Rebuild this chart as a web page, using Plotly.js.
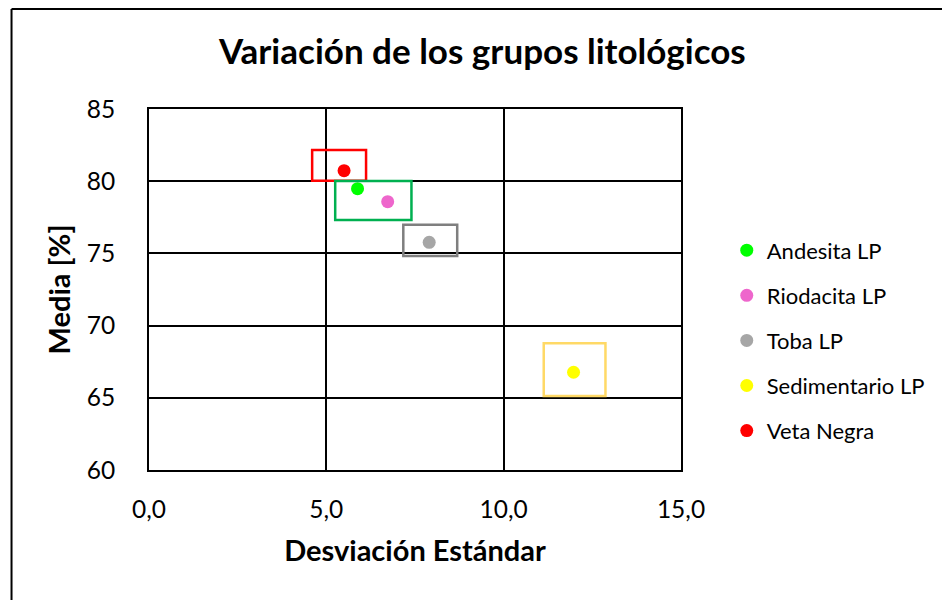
<!DOCTYPE html>
<html>
<head>
<meta charset="utf-8">
<script src="https://cdn.plot.ly/plotly-3.0.1.min.js"></script>
<style>html,body{margin:0;padding:0;background:#fff}#chart{width:942px;height:600px}</style>
</head>
<body>
<div id="chart"></div>
<script>
// Data
const groups = ["Andesita LP", "Riodacita LP", "Toba LP", "Sedimentario LP", "Veta Negra"];
const desviacion = [5.88, 6.73, 7.90, 11.97, 5.50];
const media = [79.48, 78.58, 75.77, 66.77, 80.73];
const pointColors = ["#00FF00", "#EE66CC", "#A6A6A6", "#FFFF00", "#FF0000"];
// Range boxes (Desviación min/max, Media min/max)
const boxGroups = ["Veta Negra", "Andesita/Riodacita LP", "Toba LP", "Sedimentario LP"];
const boxXmin = [4.60, 5.25, 7.17, 11.13];
const boxXmax = [6.12, 7.40, 8.69, 12.87];
const boxYmin = [80.03, 77.31, 74.82, 65.12];
const boxYmax = [82.16, 80.01, 76.99, 68.77];
const boxColors = ["#FF0000", "#00B050", "#7F7F7F", "#FFD966"];
const xTicks = [0, 5, 10, 15];
const yTicks = [60, 65, 70, 75, 80, 85];

const FONT = "Lato, 'DejaVu Sans', sans-serif";

const traces = groups.map((g, i) => ({
  type: "scatter", mode: "markers",
  x: [desviacion[i]], y: [media[i]],
  name: g, legendgroup: "g" + i,
  marker: {color: pointColors[i], size: 13}
}));

const shapes = boxXmin.map((x0, i) => ({
  type: "rect", xref: "x", yref: "y",
  x0: x0, x1: boxXmax[i], y0: boxYmin[i], y1: boxYmax[i],
  line: {color: boxColors[i], width: 2.5}, fillcolor: "rgba(0,0,0,0)", layer: "above"
}));
// outer frame (left and top border of the chart area)
shapes.push({type: "line", xref: "paper", yref: "paper", x0: -0.2584, x1: -0.2584, y0: 1.277, y1: -0.5, line: {color: "#000", width: 2}});
shapes.push({type: "line", xref: "paper", yref: "paper", x0: -0.2584, x1: 1.6, y0: 1.277, y1: 1.277, line: {color: "#000", width: 2}});

const layout = {
  width: 942, height: 600,
  margin: {l: 149, r: 259, t: 109, b: 130},
  paper_bgcolor: "#fff", plot_bgcolor: "#fff",
  separators: ",.",
  font: {family: FONT, color: "#000"},
  title: {text: "<b>Variación de los grupos litológicos</b>", font: {size: 35, family: FONT, color: "#000"},
          x: 0.512, xref: "container", xanchor: "center", y: 0.913, yref: "container", yanchor: "middle"},
  xaxis: {range: [0, 15], tickvals: xTicks, tickformat: ".1f", showgrid: true, gridcolor: "#000", gridwidth: 2,
          zeroline: false, showline: true, linecolor: "#000", linewidth: 2, mirror: true, ticks: "",
          tickfont: {size: 24.5, family: FONT}, ticklabelstandoff: 17,
          title: {text: "<b>Desviación Estándar</b>", font: {size: 29, family: FONT}, standoff: 18}},
  yaxis: {range: [60, 85], tickvals: yTicks, showgrid: true, gridcolor: "#000", gridwidth: 2,
          zeroline: false, showline: true, linecolor: "#000", linewidth: 2, mirror: true, ticks: "",
          tickfont: {size: 24.5, family: FONT}, ticklabelstandoff: 27,
          title: {text: "<b>Media [%]</b>", font: {size: 29, family: FONT}, standoff: 8}},
  showlegend: true,
  legend: {x: 1.086, xanchor: "left", y: 0.359, yanchor: "middle", font: {size: 22, family: FONT},
           tracegroupgap: 13.5, bgcolor: "rgba(0,0,0,0)", itemwidth: 30},
  shapes: shapes
};

Plotly.newPlot("chart", traces, layout, {displayModeBar: false, staticPlot: true});
</script>
</body>
</html>
